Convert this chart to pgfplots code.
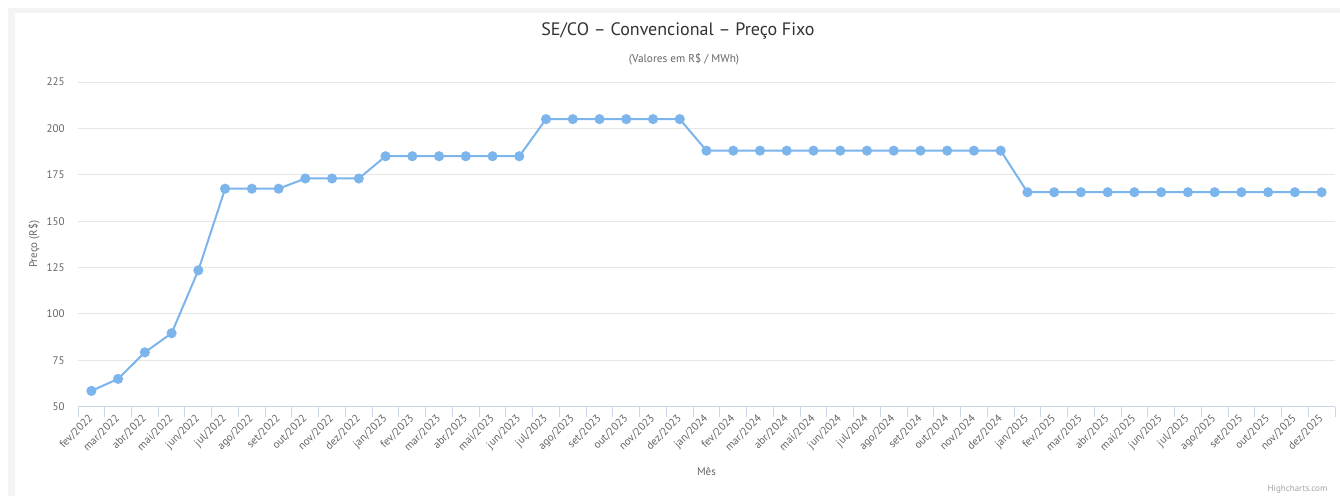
\documentclass[border=0pt]{standalone}
\usepackage{pgfplots}
\pgfplotsset{compat=1.18}
\usepackage{fontspec}
\setmainfont{PT Sans}
\definecolor{hcline}{HTML}{7CB5EC}
\definecolor{hcgrid}{HTML}{E6E6E6}
\definecolor{hcaxis}{HTML}{CCD6EB}
\definecolor{hctext}{HTML}{666666}
\definecolor{hctitle}{HTML}{333333}
\definecolor{hcbg}{HTML}{F4F4F4}
\begin{document}
\begin{tikzpicture}
\useasboundingbox (0,0) rectangle (1005pt,372pt);
\fill[white] (0,0) rectangle (1005pt,372pt);
\fill[hcbg] (6pt,0) rectangle (11.25pt,366pt);
\fill[hcbg] (6pt,362.25pt) rectangle (1005pt,366pt);
\begin{axis}[
  scale only axis,
  width=942.75pt, height=243.5pt,
  at={(58.5pt,66.98pt)}, anchor=south west,
  xmin=-0.5, xmax=46.5,
  ymin=50, ymax=225,
  ytick={50,75,...,225},
  xtick={0,...,46},
  xticklabels={fev/2022,mar/2022,abr/2022,mai/2022,jun/2022,jul/2022,ago/2022,set/2022,out/2022,nov/2022,dez/2022,
    jan/2023,fev/2023,mar/2023,abr/2023,mai/2023,jun/2023,jul/2023,ago/2023,set/2023,out/2023,nov/2023,dez/2023,
    jan/2024,fev/2024,mar/2024,abr/2024,mai/2024,jun/2024,jul/2024,ago/2024,set/2024,out/2024,nov/2024,dez/2024,
    jan/2025,fev/2025,mar/2025,abr/2025,mai/2025,jun/2025,jul/2025,ago/2025,set/2025,out/2025,nov/2025,dez/2025},
  /pgf/number format/assume math mode=true,
  axis x line*=bottom,
  axis y line*=left,
  x axis line style={draw=hcaxis, line width=0.75pt},
  y axis line style={draw=none},
  major tick length=0pt,
  extra x ticks={-0.5,0.5,...,46.5},
  extra x tick labels={},
  extra x tick style={major tick length=7.5pt, tick align=outside, tick style={draw=hcaxis, line width=0.75pt}},
  ymajorgrids,
  grid style={draw=hcgrid, line width=0.75pt},
  xticklabel style={rotate=45, anchor=east, font=\fontsize{8.25pt}{9pt}\selectfont, text=hctext, inner sep=0pt},
  xticklabel shift=7.5pt,
  yticklabel style={anchor=east, font=\fontsize{8.25pt}{9pt}\selectfont, text=hctext, inner sep=0pt},
  yticklabel shift=9.75pt,
  every axis y label/.style={at={(axis description cs:0,0.5)}, xshift=-33pt, rotate=90, anchor=center, font=\fontsize{8.25pt}{9pt}\selectfont, text=hctext},
  every axis x label/.style={at={(axis description cs:0.5,0)}, yshift=-49pt, anchor=center, font=\fontsize{8.25pt}{9pt}\selectfont, text=hctext},
  ylabel={Preço (R\$)},
  xlabel={Mês},
  clip=false,
]
\addplot[hcline, line width=1.5pt, mark=*, mark size=3pt, mark options={fill=hcline, draw=none}] coordinates {
(0,58.5) (1,65) (2,79.3) (3,89.6) (4,123.5) (5,167.5) (6,167.5) (7,167.5) (8,173) (9,173) (10,173)
(11,185) (12,185) (13,185) (14,185) (15,185) (16,185)
(17,205) (18,205) (19,205) (20,205) (21,205) (22,205)
(23,188) (24,188) (25,188) (26,188) (27,188) (28,188) (29,188) (30,188) (31,188) (32,188) (33,188) (34,188)
(35,165.6) (36,165.6) (37,165.6) (38,165.6) (39,165.6) (40,165.6) (41,165.6) (42,165.6) (43,165.6) (44,165.6) (45,165.6) (46,165.6)
};
\end{axis}
\node[font=\fontsize{13.5pt}{16pt}\selectfont, text=hctitle] at (508.5pt,348.75pt) {SE/CO – Convencional – Preço Fixo};
\node[font=\fontsize{8.5pt}{10pt}\selectfont, text=hctext] at (513pt,327.75pt) {(Valores em R\$ / MWh)};
\node[font=\fontsize{6.75pt}{8pt}\selectfont, text=gray!70, anchor=east] at (999pt,5.25pt) {Highcharts.com};
\end{tikzpicture}
\end{document}
